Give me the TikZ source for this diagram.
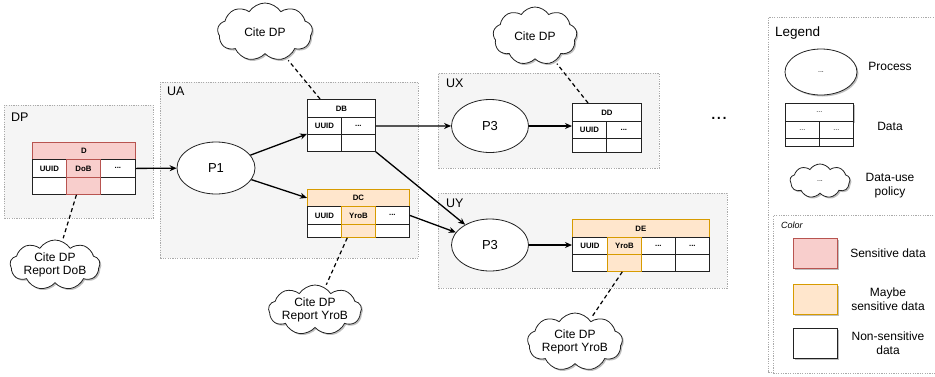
\documentclass[tikz,border=0pt]{standalone}
\usepackage{fontspec}
\setmainfont{Liberation Sans}
\usetikzlibrary{shapes.geometric,shapes.symbols,arrows.meta,calc,shadows}
\definecolor{contfill}{HTML}{F5F5F5}
\definecolor{contline}{HTML}{AAAAAA}
\definecolor{redfill}{HTML}{F8CECC}
\definecolor{redline}{HTML}{B85450}
\definecolor{orfill}{HTML}{FFE6CC}
\definecolor{orline}{HTML}{D79B00}
\definecolor{ink}{HTML}{222222}
\tikzset{
  container/.style={draw=contline, fill=contfill, dash pattern=on 1.2pt off 1.2pt, line width=0.8pt, anchor=north west, inner sep=0pt},
  legendbox/.style={draw=contline, fill=white, dash pattern=on 1.2pt off 1.2pt, line width=0.8pt, anchor=north west, inner sep=0pt},
  cell/.style={draw=ink, fill=white, line width=0.8pt, anchor=north west, inner sep=0pt, minimum height=17pt, minimum width=34pt, font=\fontsize{7.8}{8}\selectfont\bfseries},
  redcell/.style={cell, draw=redline, fill=redfill},
  orcell/.style={cell, draw=orline, fill=orfill},
  proc/.style={ellipse, draw=ink, fill=white, line width=0.8pt, inner sep=0pt, minimum width=77pt, minimum height=52pt, font=\fontsize{13}{15}\selectfont},
  policy/.style={cloud, cloud puffs=9, cloud puff arc=115, draw=ink, fill=white, line width=0.8pt, inner sep=0pt},
  poltext/.style={align=center, inner sep=0pt, font=\fontsize{12}{13.5}\selectfont},
  shad/.style={drop shadow={shadow xshift=1.5pt, shadow yshift=-1.5pt, opacity=0.25, fill=black}},
  flow/.style={-{Stealth[length=7pt,width=6pt]}, line width=1.3pt, draw=black},
  link/.style={line width=1.2pt, dash pattern=on 4pt off 3pt, draw=black, shorten >=3pt},
  lbl/.style={font=\fontsize{12.5}{14}\selectfont, anchor=west, inner sep=0pt},
  legtxt/.style={font=\fontsize{12}{14}\selectfont, align=center, inner sep=0pt}
}
\begin{document}
\begin{tikzpicture}[x=1pt,y=-1pt]
\useasboundingbox (0,0) rectangle (935,376);

% containers
\node[container, minimum width=149pt, minimum height=113pt] (DPbox) at (4,105) {};
\node[container, minimum width=258pt, minimum height=176pt] (UAbox) at (160,82) {};
\node[container, minimum width=221pt, minimum height=95pt] (UXbox) at (438,73) {};
\node[container, minimum width=289pt, minimum height=95pt] (UYbox) at (438,193) {};
\node[lbl] (DPlbl) at (11,117) {DP};
\node[lbl] (UAlbl) at (167,91) {UA};
\node[lbl] (UXlbl) at (446,83) {UX};
\node[lbl] (UYlbl) at (446,203) {UY};

% legend
\node[legendbox, minimum width=180pt, minimum height=355pt] (Legbox) at (768,17) {};
\node[legendbox, minimum width=175pt, minimum height=158pt] (Colbox) at (773,215) {};
\node[font=\fontsize{13.5}{15}\selectfont, anchor=west, inner sep=0pt] (Leglbl) at (775,33) {Legend};
\node[font=\fontsize{9}{10}\selectfont\itshape, anchor=west, inner sep=0pt] (Collbl) at (781,225) {Color};

% processes
\node[proc, minimum width=78pt] (P1) at (216,168) {P1};
\node[proc, minimum height=53pt] (P3x) at (490,126) {P3};
\node[proc] (P3y) at (490,245) {P3};

% policies
\node[policy, shad, minimum width=90pt, minimum height=50pt] (cD) at (55,265) {};
\node[poltext] (cDt) at (cD) {Cite DP\\Report DoB};
\node[policy, shad, minimum width=95pt, minimum height=58pt] (cDB) at (265,32) {};
\node[poltext] (cDBt) at (cDB) {Cite DP};
\node[policy, shad, minimum width=93pt, minimum height=50pt] (cDC) at (315,310) {};
\node[poltext] (cDCt) at (cDC) {Cite DP\\Report YroB};
\node[policy, shad, minimum width=84pt, minimum height=58pt] (cDD) at (535,36) {};
\node[poltext] (cDDt) at (cDD) {Cite DP};
\node[policy, shad, minimum width=95pt, minimum height=58pt] (cDE) at (575,342) {};
\node[poltext] (cDEt) at (cDE) {Cite DP\\Report YroB};

% table D
\node[redcell, minimum width=103pt] (Dh) at (32,142) {D};
\node[cell, minimum height=18pt] (Da) at (32,159) {UUID};
\node[cell, minimum height=18pt, minimum width=35pt] (Dc) at (100,159) {...};
\node[cell] (Da2) at (32,177) {};
\node[cell, minimum width=35pt] (Dc2) at (100,177) {};
\node[redcell, minimum height=18pt] (Db) at (66,159) {DoB};
\node[redcell] (Db2) at (66,177) {};

% table DB
\node[cell, minimum width=68pt, minimum height=18pt] (DBh) at (307,99) {DB};
\node[cell] (DBa) at (307,117) {UUID};
\node[cell] (DBb) at (341,117) {...};
\node[cell] (DBa2) at (307,134) {};
\node[cell] (DBb2) at (341,134) {};

% table DC
\node[orcell, minimum width=102pt] (DCh) at (307,189) {DC};
\node[cell, minimum height=18pt] (DCa) at (307,206) {UUID};
\node[cell, minimum height=18pt] (DCc) at (375,206) {...};
\node[cell, minimum height=13pt] (DCa2) at (307,224) {};
\node[cell, minimum height=13pt] (DCc2) at (375,224) {};
\node[orcell, minimum height=18pt] (DCb) at (341,206) {YroB};
\node[orcell, minimum height=13pt] (DCb2) at (341,224) {};

% table DD
\node[cell, minimum width=69pt, minimum height=18pt] (DDh) at (572,103) {DD};
\node[cell] (DDa) at (572,121) {UUID};
\node[cell, minimum width=35pt] (DDb) at (606,121) {...};
\node[cell, minimum height=14pt] (DDa2) at (572,138) {};
\node[cell, minimum width=35pt, minimum height=14pt] (DDb2) at (606,138) {};

% table DE
\node[orcell, minimum width=137pt, minimum height=18pt] (DEh) at (572,219) {DE};
\node[cell, minimum width=35pt] (DEa) at (572,237) {UUID};
\node[cell] (DEc) at (641,237) {...};
\node[cell] (DEd) at (675,237) {...};
\node[cell, minimum width=35pt] (DEa2) at (572,254) {};
\node[cell] (DEc2) at (641,254) {};
\node[cell] (DEd2) at (675,254) {};
\node[orcell] (DEb) at (607,237) {YroB};
\node[orcell] (DEb2) at (607,254) {};

% more
\node[font=\fontsize{20}{20}\selectfont, inner sep=0pt] (more) at (719,118) {...};

% flows
\draw[flow] (Dc.east) -- (P1);
\draw[flow] (P1) -- (DBa2.north west);
\draw[flow] (P1) -- (DCh.west);
\draw[flow] (DBb.east) -- (P3x);
\draw[flow] (DBb2.south east) -- (P3y);
\draw[flow] (DCc.east) -- (P3y);
\draw[flow] (P3x.east) -- (P3x.east -| DDa.west);
\draw[flow] (P3y.east) -- (P3y.east -| DEa.west);

% policy links
\draw[link] ($(Db2.south west)!0.3!(Db2.south east)$) -- (cD);
\draw[link] ($(DBh.north west)!0.19!(DBh.north east)$) -- (cDB);
\draw[link] ($(DCb2.south west)!0.18!(DCb2.south east)$) -- (cDC);
\draw[link] ($(DDh.north west)!0.23!(DDh.north east)$) -- (cDD);
\draw[link] ($(DEb2.south west)!0.44!(DEb2.south east)$) -- (cDE);

% legend items
\node[proc, shad, minimum width=72pt, minimum height=46pt, font=\fontsize{7}{8}\selectfont] (Lproc) at (821,72) {...};
\node[legtxt] (Lproct) at (890,66) {Process};
\node[cell, shad, minimum width=68pt, minimum height=18pt, font=\fontsize{7}{8}\selectfont] (Lh) at (785,103) {...};
\node[cell, minimum height=17pt, font=\fontsize{7}{8}\selectfont] (La) at (785,121) {...};
\node[cell, minimum height=17pt, font=\fontsize{7}{8}\selectfont] (Lb) at (819,121) {...};
\node[cell, minimum height=8pt] (La2) at (785,138) {};
\node[cell, minimum height=8pt] (Lb2) at (819,138) {};
\node[legtxt] (Ldatat) at (890,126) {Data};
\node[policy, shad, minimum width=60pt, minimum height=34pt] (Lpol) at (820,181) {};
\node[poltext, font=\fontsize{7}{8}\selectfont] (Lpolt2) at (Lpol) {...};
\node[legtxt] (Lpolt) at (890,186) {Data-use\\policy};
\node[draw=redline, fill=redfill, line width=0.8pt, shad, minimum width=44pt, minimum height=30pt, anchor=north west, inner sep=0pt] (Lred) at (793,238) {};
\node[legtxt] (Lredt) at (888,253) {Sensitive data};
\node[draw=orline, fill=orfill, line width=0.8pt, shad, minimum width=44pt, minimum height=30pt, anchor=north west, inner sep=0pt] (Lor) at (793,284) {};
\node[legtxt] (Lort) at (888,299) {Maybe\\sensitive data};
\node[draw=ink, fill=white, line width=0.8pt, shad, minimum width=44pt, minimum height=30pt, anchor=north west, inner sep=0pt] (Lwh) at (793,328) {};
\node[legtxt] (Lwht) at (888,343) {Non-sensitive\\data};
\end{tikzpicture}
\end{document}
